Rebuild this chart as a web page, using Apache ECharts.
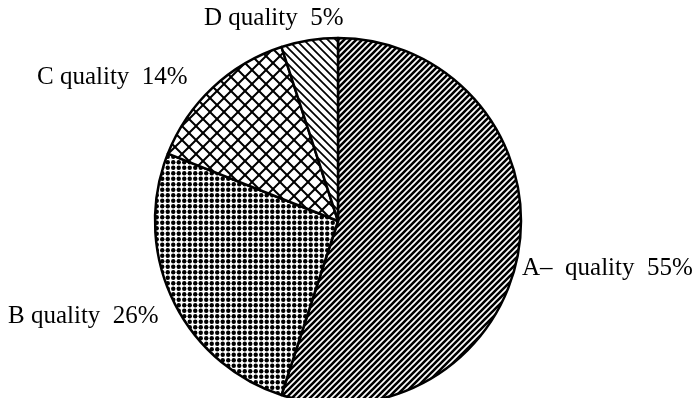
<!DOCTYPE html>
<html>
<head>
<meta charset="utf-8">
<script src="https://cdn.jsdelivr.net/npm/echarts@6/dist/echarts.min.js"></script>
<style>
  html, body { margin: 0; padding: 0; background: #fff; }
  #chart { width: 698px; height: 398px; }
</style>
</head>
<body>
<div id="chart"></div>
<script>
// Share of output by quality grade (percent)
const grades = ['A\u2013  quality', 'B quality', 'C quality', 'D quality'];
const shares = [55, 26, 14, 5];

// Hatching tiles used as slice fills
function tile(w, h, draw) {
  const c = document.createElement('canvas');
  c.width = w; c.height = h;
  const ctx = c.getContext('2d');
  ctx.fillStyle = '#fff';
  ctx.fillRect(0, 0, w, h);
  ctx.strokeStyle = '#000';
  ctx.fillStyle = '#000';
  draw(ctx, w, h);
  return { image: c, repeat: 'repeat' };
}
function forward(ctx, s, lw) { // "/" lines
  ctx.lineWidth = lw;
  ctx.beginPath();
  ctx.moveTo(-2, s + 2); ctx.lineTo(s + 2, -2);
  ctx.moveTo(-2, 2); ctx.lineTo(2, -2);
  ctx.moveTo(s - 2, s + 2); ctx.lineTo(s + 2, s - 2);
  ctx.stroke();
}
function backward(ctx, s, lw) { // "\" lines
  ctx.lineWidth = lw;
  ctx.beginPath();
  ctx.moveTo(-2, -2); ctx.lineTo(s + 2, s + 2);
  ctx.moveTo(s - 2, -2); ctx.lineTo(s + 2, 2);
  ctx.moveTo(-2, s - 2); ctx.lineTo(2, s + 2);
  ctx.stroke();
}

const fills = [
  tile(6, 6, (ctx, s) => forward(ctx, s, 2.6)),
  tile(11, 11, (ctx) => {
    [2.75, 8.25].forEach(x => [2.75, 8.25].forEach(y => {
      ctx.beginPath(); ctx.arc(x, y, 2.2, 0, Math.PI * 2); ctx.fill();
    }));
  }),
  tile(14, 14, (ctx, s) => { forward(ctx, s, 2); backward(ctx, s, 2); }),
  tile(8, 8, (ctx, s) => backward(ctx, s, 1.7))
];

// Label anchor spots (left edge, vertical middle)
const labelSpots = [
  { x: 522, y: 268 },
  { x: 8, y: 316 },
  { x: 37, y: 77 },
  { x: 204, y: 18 }
];

const chart = echarts.init(document.getElementById('chart'), null, { renderer: 'canvas' });
chart.setOption({
  backgroundColor: '#fff',
  animation: false,
  series: [{
    type: 'pie',
    center: [338, 221],
    radius: 183,
    startAngle: 90,
    clockwise: true,
    silent: true,
    data: grades.map((g, i) => ({
      name: g,
      value: shares[i],
      itemStyle: { color: fills[i] }
    })),
    itemStyle: { borderColor: '#000', borderWidth: 2.5 },
    label: {
      show: true,
      position: 'outside',
      overflow: 'none',
      width: 300,
      formatter: p => p.name + '  ' + p.value + '%',
      fontFamily: '"Liberation Serif", serif',
      fontSize: 25,
      color: '#000'
    },
    labelLine: { show: false },
    labelLayout: p => ({
      x: labelSpots[p.dataIndex].x,
      y: labelSpots[p.dataIndex].y,
      align: 'left',
      verticalAlign: 'middle'
    })
  }]
});
</script>
</body>
</html>
